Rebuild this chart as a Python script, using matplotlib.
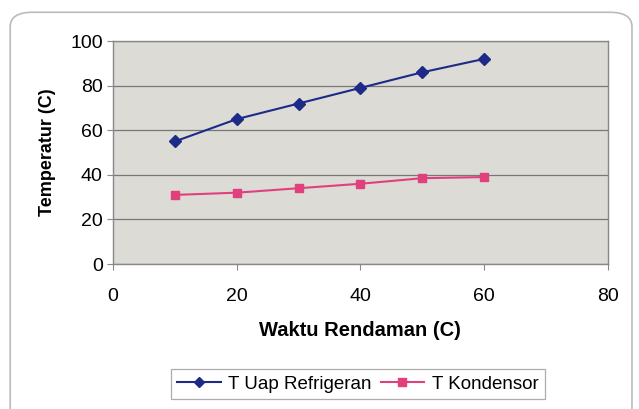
import matplotlib
matplotlib.use("Agg")
from matplotlib import pyplot as plt
from matplotlib.patches import FancyBboxPatch

# data
waktu = [10, 20, 30, 40, 50, 60]
t_uap = [55, 65, 72, 79, 86, 92]
t_kondensor = [31, 32, 34, 36, 38.5, 39]

plt.rcParams['font.family'] = ['Liberation Sans', 'DejaVu Sans']

fig = plt.figure(figsize=(6.39, 4.09), dpi=100)

# rounded chart frame (runs off the bottom edge like the scan)
frame = FancyBboxPatch((0.016, -0.05), 0.973, 1.02, boxstyle="round,pad=0,rounding_size=0.035",
                       transform=fig.transFigure, facecolor='none', edgecolor='#bbbbbb',
                       linewidth=1.2, zorder=-1)
fig.patches.append(frame)

ax = fig.add_axes([0.177, 0.3545, 0.774, 0.545])
ax.set_facecolor('#dcdbd6')

ax.plot(waktu, t_uap, color='#1e2a88', marker='D', markersize=6, linewidth=1.5,
        label='T Uap Refrigeran')
ax.plot(waktu, t_kondensor, color='#e0407c', marker='s', markersize=6, linewidth=1.5,
        label='T Kondensor')

ax.set_xlim(0, 80)
ax.set_ylim(0, 100)
ax.set_xticks(range(0, 81, 20))
ax.set_yticks(range(0, 101, 20))
ax.yaxis.grid(True, color='#777777', linewidth=0.9)
ax.set_axisbelow(True)

for s in ax.spines.values():
    s.set_color('#888888')
    s.set_linewidth(1.0)

ax.tick_params(axis='both', labelsize=14, color='#888888', length=4, direction='out')
ax.tick_params(axis='x', pad=13)

ax.set_xlabel('Waktu Rendaman (C)', fontsize=14.5, fontweight='bold', labelpad=12)
ax.set_ylabel('Temperatur (C)', fontsize=13, fontweight='bold', labelpad=10)

leg = fig.legend(loc='center', bbox_to_anchor=(0.56, 0.061), ncol=2, fontsize=13.5,
                 frameon=True, fancybox=False, edgecolor='#999999',
                 handlelength=2.3, columnspacing=0.5, handletextpad=0.4,
                 borderpad=0.35, markerscale=0.85)
leg.get_frame().set_linewidth(0.9)

fig.savefig('out.png', dpi=100)
